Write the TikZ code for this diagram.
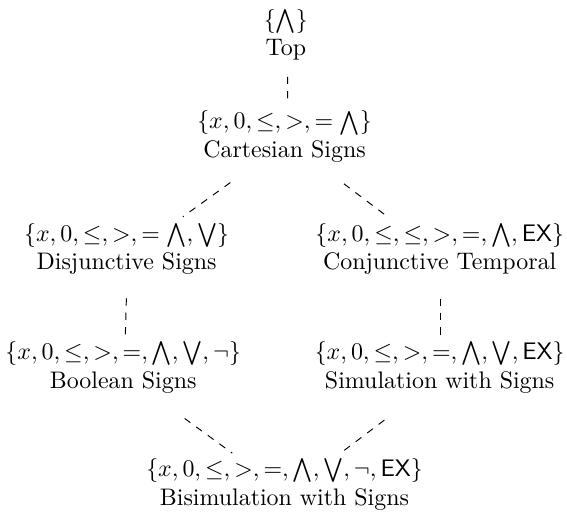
\documentclass[tikz,border=0pt]{standalone}
\usepackage{amsmath}
\usetikzlibrary{positioning}

\begin{document}
\begin{tikzpicture}[
      sig/.style={align=center, inner sep=2pt},
      vln/.style={dashed, shorten <=17.5pt, shorten >=17pt},
      dln/.style={dashed, shorten <=29.5pt, shorten >=28.5pt}
    ]
    \useasboundingbox (0,0) rectangle (8.33,-7.71);
    \node[sig] (top) at (4.20,-0.51) {$\{\bigwedge\}$\\Top};
    \node[sig] (cart) at (4.18,-2.01) {$\{x, 0, \leq, >, = \bigwedge\}$\\Cartesian Signs};
    \node[sig] (disj) at (1.86,-3.66) {$\{x, 0, \leq, >, = \bigwedge, \bigvee\}$\\Disjunctive Signs};
    \node[sig] (conj) at (6.46,-3.66) {$\{x, 0, \leq, \leq, >, =, \bigwedge, \mathsf{EX}\}$\\Conjunctive Temporal};
    \node[sig] (bool) at (1.81,-5.40) {$\{x, 0, \leq, >, =, \bigwedge, \bigvee, \neg\}$\\Boolean Signs};
    \node[sig] (sim) at (6.46,-5.40) {$\{x, 0, \leq, >, =, \bigwedge, \bigvee, \mathsf{EX}\}$\\Simulation with Signs};
    \node[sig] (bisim) at (4.18,-7.12) {$\{x, 0, \leq, >, =, \bigwedge, \bigvee, \neg, \mathsf{EX}\}$\\Bisimulation with Signs};
    % edges meet a bit below the node centres
    \draw[vln] ([shift={(0.7pt,-0.1pt)}]top.center) -- ([shift={(1.3pt,-1.9pt)}]cart.center);
    \draw[dln] ([shift={(1.3pt,-1.9pt)}]cart.center) -- ([shift={(0.4pt,-3.1pt)}]disj.center);
    \draw[dln] ([shift={(1.3pt,-1.9pt)}]cart.center) -- ([shift={(0.4pt,-3.2pt)}]conj.center);
    \draw[vln] ([shift={(0.4pt,-3.1pt)}]disj.center) -- ([shift={(0.4pt,-3.9pt)}]bool.center);
    \draw[vln] ([shift={(0.4pt,-3.2pt)}]conj.center) -- ([shift={(0.4pt,-4.2pt)}]sim.center);
    \draw[dln] ([shift={(1.8pt,-3.9pt)}]bool.center) -- ([shift={(1.2pt,-3.6pt)}]bisim.center);
    \draw[dln] ([shift={(0.4pt,-4.2pt)}]sim.center) -- ([shift={(1.2pt,-3.6pt)}]bisim.center);
  \end{tikzpicture}
\end{document}
